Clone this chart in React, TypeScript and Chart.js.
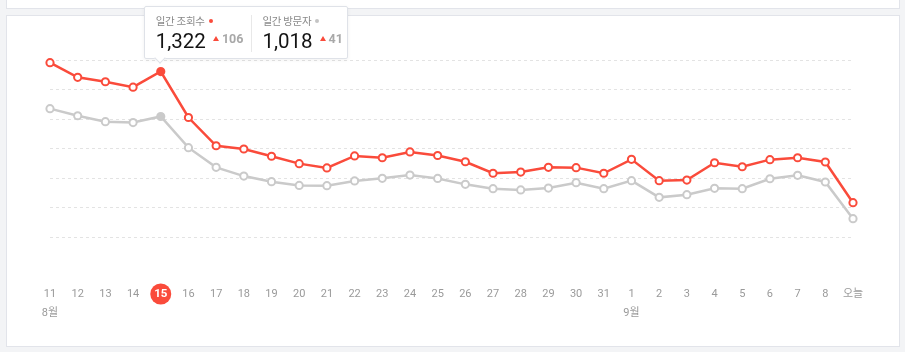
import React, { useEffect, useRef, useState } from 'react';
import { Chart, registerables } from 'chart.js';

Chart.register(...registerables);

// ---- data ----
const dayLabels = ['11','12','13','14','15','16','17','18','19','20','21','22','23','24','25','26','27','28','29','30','31','1','2','3','4','5','6','7','8','오늘'];
const monthIndexes = [0, 21];
const monthNames = ['8월', '9월'];
const pageViews = [1382,1283,1253,1216,1322,1011,820,798,749,699,670,751,739,778,754,712,634,642,674,672,634,728,584,588,705,678,726,739,710,435];
const visitors = [1071,1023,983,977,1018,807,674,615,577,552,550,582,600,622,599,559,530,521,534,570,530,584,471,489,532,530,597,620,575,327];
const seriesNames = ['일간 조회수', '일간 방문자'];
const yTicks = [0, 200, 400, 600, 800, 1000, 1200, 1400];
const HIGHLIGHT = 4;

const RED = '#fa4b3b';
const GREY = '#cacaca';
const TICK_PAD = 17.5;
const LINE_H = 19;
const FONT = "Roboto, 'Noto Sans CJK KR', sans-serif";

const highlightPlugin = {
  id: 'highlightTick',
  afterDraw(chart: any) {
    const ctx = chart.ctx;
    const x = chart.scales.x.getPixelForValue(HIGHLIGHT);
    const y = chart.chartArea.bottom + TICK_PAD + LINE_H / 2;
    ctx.save();
    ctx.beginPath();
    ctx.arc(x, y, 10.5, 0, Math.PI * 2);
    ctx.fillStyle = RED;
    ctx.fill();
    ctx.fillStyle = '#fff';
    ctx.font = `bold 11.5px ${FONT}`;
    ctx.textAlign = 'center';
    ctx.textBaseline = 'middle';
    ctx.fillText(dayLabels[HIGHLIGHT], x, y + 0.5);
    ctx.restore();
  },
};

export default function App() {
  const canvasRef = useRef<HTMLCanvasElement | null>(null);
  const [tip, setTip] = useState<{ x: number; y: number } | null>(null);

  useEffect(() => {
    if (!canvasRef.current) return;
    const labels = dayLabels.map((d, i) => {
      const m = monthIndexes.indexOf(i);
      return m >= 0 ? [d, monthNames[m]] : d;
    });
    const pointBg = (color: string) => (c: any) => (c.dataIndex === HIGHLIGHT ? color : '#fff');
    const chart = new Chart(canvasRef.current, {
      type: 'line',
      data: {
        labels,
        datasets: [
          {
            label: seriesNames[0],
            data: pageViews,
            borderColor: RED,
            borderWidth: 2.5,
            pointBorderColor: RED,
            pointBackgroundColor: pointBg(RED),
            pointBorderWidth: 2,
            pointRadius: 3.6,
            tension: 0,
            clip: false as any,
          },
          {
            label: seriesNames[1],
            data: visitors,
            borderColor: GREY,
            borderWidth: 2.5,
            pointBorderColor: GREY,
            pointBackgroundColor: pointBg(GREY),
            pointBorderWidth: 2,
            pointRadius: 3.6,
            tension: 0,
            clip: false as any,
          },
        ],
      },
      options: {
        animation: false,
        responsive: false,
        events: [],
        layout: { padding: { left: 43, right: 46, top: 44, bottom: 0 } },
        plugins: { legend: { display: false }, tooltip: { enabled: false } },
        scales: {
          x: {
            offset: false,
            grid: { display: false, drawTicks: false, tickLength: 0 },
            border: { display: false },
            ticks: {
              autoSkip: false,
              maxRotation: 0,
              padding: TICK_PAD,
              color: (c: any) => (c.index === HIGHLIGHT ? 'rgba(0,0,0,0)' : '#9a9a9a'),
              font: { family: FONT, size: 11, lineHeight: `${LINE_H}px` },
            },
            afterFit: (s: any) => { s.height = 79; },
          },
          y: {
            min: yTicks[0],
            max: yTicks[yTicks.length - 1],
            afterBuildTicks: (s: any) => { s.ticks = yTicks.map((v) => ({ value: v })); },
            grid: {
              drawTicks: false,
              tickLength: 0,
              lineWidth: 1,
              color: (c: any) => (c.tick && c.tick.value === 0 ? 'rgba(0,0,0,0)' : '#e3e3e3'),
            },
            border: { display: false, dash: [3, 3] },
            ticks: { display: false },
            afterFit: (s: any) => { s.width = 0; },
          },
        },
      },
      plugins: [highlightPlugin],
    });
    const pt: any = chart.getDatasetMeta(0).data[HIGHLIGHT];
    setTip({ x: pt.x, y: pt.y });
    return () => chart.destroy();
  }, []);

  const viewsDelta = pageViews[HIGHLIGHT] - pageViews[HIGHLIGHT - 1];
  const visitorsDelta = visitors[HIGHLIGHT] - visitors[HIGHLIGHT - 1];
  const fmt = (n: number) => n.toLocaleString('en-US');

  const CANVAS_LEFT = 7;
  const CANVAS_TOP = 16;

  const tri = (
    <span style={{ display: 'inline-block', width: 0, height: 0, borderLeft: '3px solid transparent', borderRight: '3px solid transparent', borderBottom: `5px solid ${RED}`, marginRight: 3 }} />
  );

  const column = (left: number, name: string, dotColor: string, value: number, delta: number) => (
    <>
      <div style={{ position: 'absolute', left, top: 7.5, fontSize: 10.5, lineHeight: '14px', color: '#8a8a8a', whiteSpace: 'nowrap', fontFamily: "'Noto Sans CJK KR', sans-serif", letterSpacing: -0.3 }}>
        {name}
        <span style={{ display: 'inline-block', width: 4, height: 4, borderRadius: 2, background: dotColor, marginLeft: 4, verticalAlign: 'middle', position: 'relative', top: -1 }} />
      </div>
      <div style={{ position: 'absolute', left, top: 22, height: 24, display: 'flex', alignItems: 'center', whiteSpace: 'nowrap' }}>
        <span style={{ fontSize: 20.5, lineHeight: '24px', color: '#141414', fontFamily: FONT }}>{fmt(value)}</span>
        <span style={{ display: 'inline-flex', alignItems: 'center', marginLeft: 7, position: 'relative', top: -2 }}>
          {tri}
          <span style={{ fontSize: 12.5, fontWeight: 700, color: '#a8a8a8', fontFamily: FONT, lineHeight: '14px' }}>{delta}</span>
        </span>
      </div>
    </>
  );

  return (
    <div style={{ position: 'absolute', left: 0, top: 0, width: 905, height: 352, background: '#f3f4f6', overflow: 'hidden', fontFamily: FONT }}>
      <div style={{ position: 'absolute', left: 6, top: -10, width: 894, height: 19, background: '#fff', border: '1px solid #e2e4ea', boxSizing: 'border-box' }} />
      <div style={{ position: 'absolute', left: 6, top: 15, width: 894, height: 332, background: '#fff', border: '1px solid #e2e4ea', boxSizing: 'border-box' }}>
        <canvas ref={canvasRef} width={892} height={330} style={{ position: 'absolute', left: 0, top: 0, width: 892, height: 330 }} />
      </div>
      {tip && (
        <div style={{ position: 'absolute', left: CANVAS_LEFT + tip.x - 17, top: CANVAS_TOP + tip.y - 66, width: 204, height: 53, background: '#fff', border: '1px solid #dfe2e8', borderRadius: 2, boxSizing: 'border-box', boxShadow: '0 1px 4px rgba(0,0,0,0.06)' }}>
          <div style={{ position: 'absolute', left: 17 - 4.5 - 1, bottom: -4.5, width: 7, height: 7, background: '#fff', borderRight: '1px solid #dfe2e8', borderBottom: '1px solid #dfe2e8', transform: 'rotate(45deg)' }} />
          {column(11, seriesNames[0], RED, pageViews[HIGHLIGHT], viewsDelta)}
          <div style={{ position: 'absolute', left: 106.7, top: 8, width: 1, height: 37, background: '#e8e8e8' }} />
          {column(117.7, seriesNames[1], '#c4c4c4', visitors[HIGHLIGHT], visitorsDelta)}
        </div>
      )}
    </div>
  );
}
